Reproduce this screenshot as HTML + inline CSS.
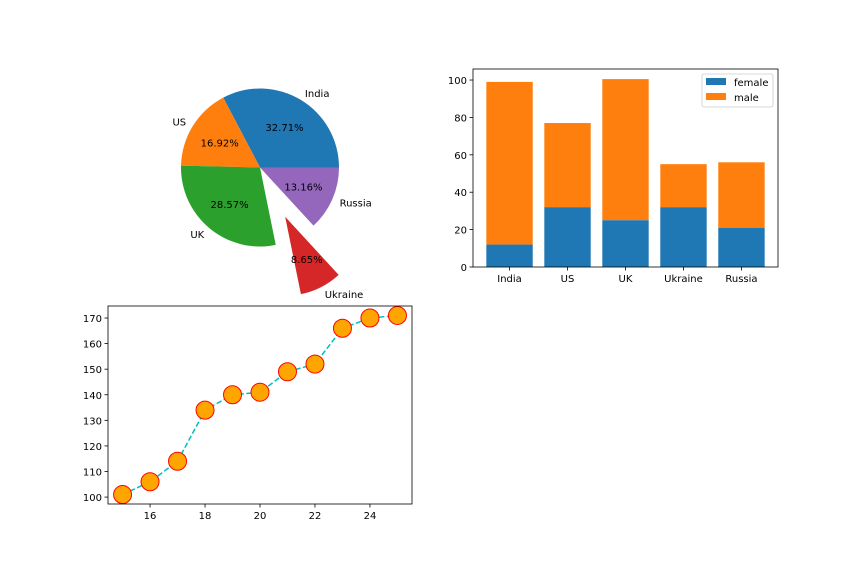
<!DOCTYPE html>
<html><head><meta charset="utf-8"><style>
body{margin:0;background:#fff}
svg{display:block;font-family:"DejaVu Sans","Liberation Sans",sans-serif}
</style></head><body>
<svg id="c" width="864" height="576" viewBox="0 0 864 576"></svg>
<script>
const pieLabels=["India","US","UK","Ukraine","Russia"];
const pieValues=[32.71,16.92,28.57,8.65,13.16];
const pieExplode=[0,0,0,0.7,0];
const pieColors=["#1f77b4","#ff7f0e","#2ca02c","#d62728","#9467bd"];
const barCats=["India","US","UK","Ukraine","Russia"];
const female=[12,32,25,32,21];
const male=[87,45,75.5,23,35];
const barTicks=[0,20,40,60,80,100];
const lineX=[15,16,17,18,19,20,21,22,23,24,25];
const lineY=[101,106,114,134,140,141,149,152,166,170,171];
const lineXTicks=[16,18,20,22,24];
const lineYTicks=[100,110,120,130,140,150,160,170];

const svg=document.getElementById('c');
const NS="http://www.w3.org/2000/svg";
function mk(tag,attrs,parent){const e=document.createElementNS(NS,tag);for(const k in attrs)e.setAttribute(k,attrs[k]);(parent||svg).appendChild(e);return e;}
function txt(s,x,y,anchor,parent,name){const t=mk('text',{x:x,y:y,'font-size':10,'text-anchor':anchor||'middle',fill:'#000'},parent);t.textContent=s;


return t;}

// PIE
const pg=mk('g',{});


const cx=260,cy=167.5,R=79;
const total=pieValues.reduce((a,b)=>a+b,0);
let a0=0;
pieValues.forEach((v,i)=>{
  const a1=a0+v/total*360, am=(a0+a1)/2*Math.PI/180;
  const ox=cx+pieExplode[i]*R*Math.cos(am), oy=cy-pieExplode[i]*R*Math.sin(am);
  const r0=a0*Math.PI/180,r1=a1*Math.PI/180;
  const large=(a1-a0)>180?1:0;
  const p=mk('path',{d:`M${ox},${oy} L${ox+R*Math.cos(r0)},${oy-R*Math.sin(r0)} A${R},${R} 0 ${large} 0 ${ox+R*Math.cos(r1)},${oy-R*Math.sin(r1)} Z`,fill:pieColors[i]},pg);
  
  
  txt(pieLabels[i],ox+1.1*R*Math.cos(am),oy-1.1*R*Math.sin(am)+4,Math.cos(am)>0.05?'start':(Math.cos(am)<-0.05?'end':'middle'),pg,'pie-label-'+pieLabels[i].toLowerCase());
  txt(v.toFixed(2)+'%',ox+0.6*R*Math.cos(am),oy-0.6*R*Math.sin(am)+4,'middle',pg,'pie-pct-'+pieLabels[i].toLowerCase());
  a0=a1;
});

// BAR
const bg=mk('g',{});


const bL=473,bR=778,bT=69,bB=267,bymax=105.9,bxmin=-0.63,bxmax=4.63;
const bx=i=>bL+(i-bxmin)/(bxmax-bxmin)*(bR-bL);
const by=v=>bB-v/bymax*(bB-bT);
const bw=0.8*(bR-bL)/(bxmax-bxmin);
barCats.forEach((c,i)=>{
  const r1=mk('rect',{x:bx(i)-bw/2,y:by(female[i]+male[i]),width:bw,height:by(female[i])-by(female[i]+male[i]),fill:'#ff7f0e'},bg);
  
  
  const r2=mk('rect',{x:bx(i)-bw/2,y:by(female[i]),width:bw,height:by(0)-by(female[i]),fill:'#1f77b4'},bg);
  
  
  mk('line',{x1:bx(i),x2:bx(i),y1:bB,y2:bB+3.5,stroke:'#000','stroke-width':0.8},bg);
  txt(c,bx(i),bB+15,'middle',bg,'bar-x-tick');
});
barTicks.forEach(t=>{mk('line',{x1:bL-3.5,x2:bL,y1:by(t),y2:by(t),stroke:'#000','stroke-width':0.8},bg);txt(String(t),bL-6,by(t)+4,'end',bg,'bar-y-tick');});
mk('rect',{x:bL,y:bT,width:bR-bL,height:bB-bT,fill:'none',stroke:'#000','stroke-width':0.8},bg);
const lg=mk('g',{},bg);


mk('rect',{x:702,y:74,width:71,height:33,fill:'#fff',stroke:'#ccc','stroke-width':0.8,rx:2},lg);
mk('rect',{x:706,y:78,width:20,height:7,fill:'#1f77b4'},lg);
txt('female',734,86,'start',lg,'legend-entry-female');
mk('rect',{x:706,y:93,width:20,height:7,fill:'#ff7f0e'},lg);
txt('male',734,101,'start',lg,'legend-entry-male');

// LINE
const lgp=mk('g',{});


const lL=108,lR=412,lT=306,lB=504,lxmin=14.47,lxmax=25.53,lymin=97.3,lymax=174.7;
const lx=v=>lL+(v-lxmin)/(lxmax-lxmin)*(lR-lL);
const ly=v=>lB-(v-lymin)/(lymax-lymin)*(lB-lT);
const pl=mk('polyline',{points:lineX.map((x,i)=>lx(x)+','+ly(lineY[i])).join(' '),fill:'none',stroke:'#00bfbf','stroke-width':1.5,'stroke-dasharray':'5.5,2.5'},lgp);


lineX.forEach((x,i)=>{const c=mk('circle',{cx:lx(x),cy:ly(lineY[i]),r:9,fill:'#ffa500',stroke:'#ff0000','stroke-width':1},lgp);

});
lineXTicks.forEach(t=>{mk('line',{x1:lx(t),x2:lx(t),y1:lB,y2:lB+3.5,stroke:'#000','stroke-width':0.8},lgp);txt(String(t),lx(t),lB+15,'middle',lgp,'line-x-tick');});
lineYTicks.forEach(t=>{mk('line',{x1:lL-3.5,x2:lL,y1:ly(t),y2:ly(t),stroke:'#000','stroke-width':0.8},lgp);txt(String(t),lL-6,ly(t)+4,'end',lgp,'line-y-tick');});
mk('rect',{x:lL,y:lT,width:lR-lL,height:lB-lT,fill:'none',stroke:'#000','stroke-width':0.8},lgp);
</script>
</body></html>
